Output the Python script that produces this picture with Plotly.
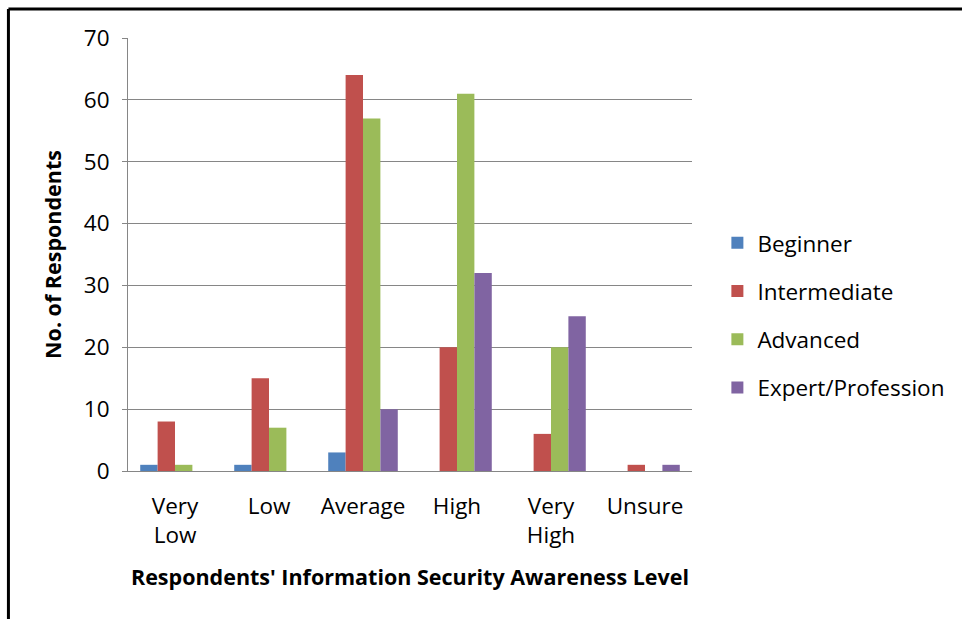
import plotly.graph_objs as go

# Categories and series
levels = ['Very<br>Low', 'Low', 'Average', 'High', 'Very<br>High', 'Unsure']
beginner = [1, 1, 3, 0, 0, 0]
intermediate = [8, 15, 64, 20, 6, 1]
advanced = [1, 7, 57, 61, 20, 0]
expert = [0, 0, 10, 32, 25, 1]

series_names = ['Beginner', 'Intermediate', 'Advanced', 'Expert/Profession']
series_colors = ['#4F81BD', '#C0504D', '#9BBB59', '#8064A2']
y_ticks = [0, 10, 20, 30, 40, 50, 60, 70]

FONT = '"Open Sans", Calibri, sans-serif'

traces = []
for name, values, color in zip(series_names, [beginner, intermediate, advanced, expert], series_colors):
    traces.append(go.Bar(
        x=levels, y=values, name=name, legendgroup=name,
        marker=dict(color=color, line=dict(width=0)),
    ))

layout = go.Layout(
    width=962, height=619,
    paper_bgcolor='white', plot_bgcolor='white',
    font=dict(family=FONT, size=22.5, color='#000000'),
    barmode='group', bargap=0.26, bargroupgap=0,
    margin=dict(l=128, r=267, t=38, b=148),
    xaxis=dict(
        title=dict(text="<b>Respondents' Information Security Awareness Level</b>",
                   font=dict(size=21.5), standoff=20),
        showline=True, linecolor='#868686', linewidth=1,
        ticks='outside', ticklen=15, tickcolor='rgba(0,0,0,0)',
        tickfont=dict(size=22.5),
    ),
    yaxis=dict(
        title=dict(text='<b>No. of Respondents</b>', font=dict(size=21.5), standoff=16),
        range=[0, 70], tickvals=y_ticks,
        showline=True, linecolor='#868686', linewidth=1,
        showgrid=True, gridcolor='#868686', gridwidth=1,
        ticks='outside', ticklen=5, tickcolor='#868686', ticklabelstandoff=8,
        tickfont=dict(size=22.5), zeroline=False,
    ),
    legend=dict(
        x=1.045, y=0.36, xanchor='left', yanchor='middle',
        traceorder='grouped', tracegroupgap=16,
        font=dict(size=22.5), itemwidth=30,
    ),
    showlegend=True,
    shapes=[
        # chart frame: top and left edges only
        dict(type='line', xref='paper', yref='paper', x0=-0.212, x1=1.5, y0=1.067, y1=1.067,
             line=dict(color='black', width=3)),
        dict(type='line', xref='paper', yref='paper', x0=-0.212, x1=-0.212, y0=1.067, y1=-0.35,
             line=dict(color='black', width=3)),
    ],
)

fig = go.Figure(data=traces, layout=layout)
# drop the default 8px page margin so the figure fills the window exactly
fig.write_html("out.html", config={'displayModeBar': False},
               post_script="document.body.style.margin='0';")
